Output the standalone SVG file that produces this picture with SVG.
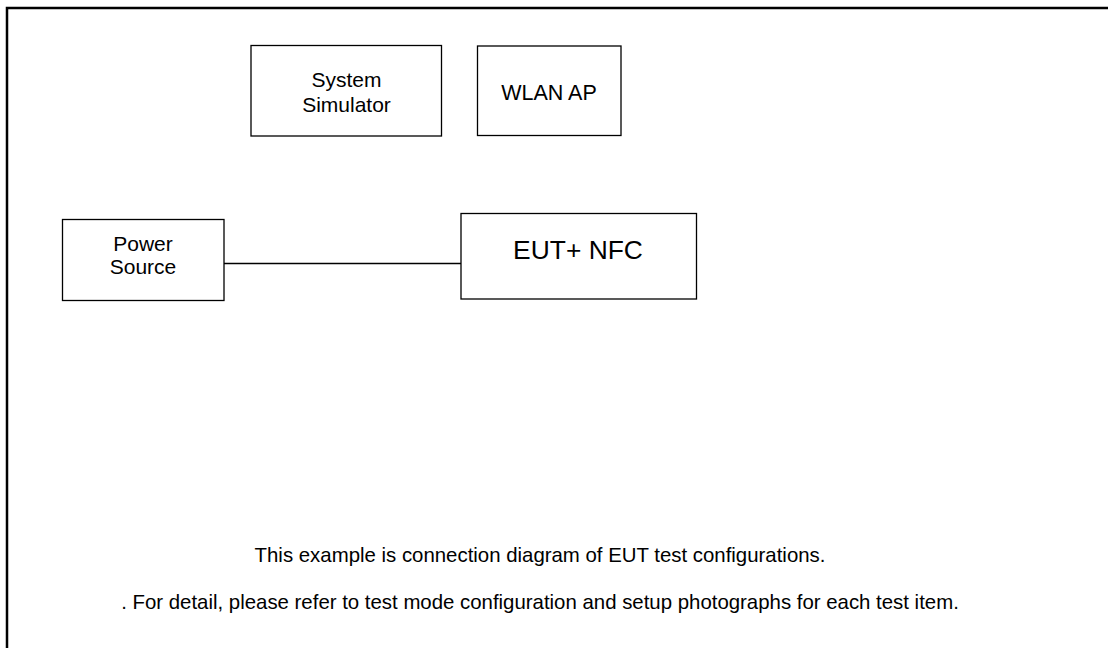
<svg xmlns="http://www.w3.org/2000/svg" width="1108" height="648" viewBox="0 0 1108 648">
<style>
.box{fill:#fff;stroke:#000;stroke-width:1.3}
.t{font-family:"Liberation Sans",Arial,sans-serif;fill:#000;text-anchor:middle}
.conn{stroke:#000;stroke-width:1.5;fill:none}
</style>
<rect width="1108" height="648" fill="#fff"/>
<path d="M7,648 V8 H1108" fill="none" stroke="#000" stroke-width="2.5"/>
<g id="connectors">
<line class="conn" x1="224" y1="263.5" x2="461" y2="263.5"/>
</g>
<g id="system-simulator">
<rect class="box" x="251" y="45.5" width="190.5" height="90.5"/>
<text class="t" x="346.5" y="87" font-size="21">System</text>
<text class="t" x="346.5" y="111.5" font-size="21">Simulator</text>
</g>
<g id="wlan-ap">
<rect class="box" x="477.5" y="46" width="143.5" height="89.5"/>
<text class="t" x="549" y="100" font-size="21.5">WLAN AP</text>
</g>
<g id="power-source">
<rect class="box" x="62.5" y="219.5" width="161.5" height="81"/>
<text class="t" x="143" y="250.5" font-size="21">Power</text>
<text class="t" x="143" y="274" font-size="21">Source</text>
</g>
<g id="eut-nfc">
<rect class="box" x="461" y="213.5" width="235.5" height="85.5"/>
<text class="t" x="578" y="258.5" font-size="26.4">EUT+ NFC</text>
</g>
<g id="notes">
<text class="t" x="540" y="562" font-size="20.4">This example is connection diagram of EUT test configurations.</text>
<text class="t" x="540" y="609" font-size="20.4">. For detail, please refer to test mode configuration and setup photographs for each test item.</text>
</g>
</svg>
